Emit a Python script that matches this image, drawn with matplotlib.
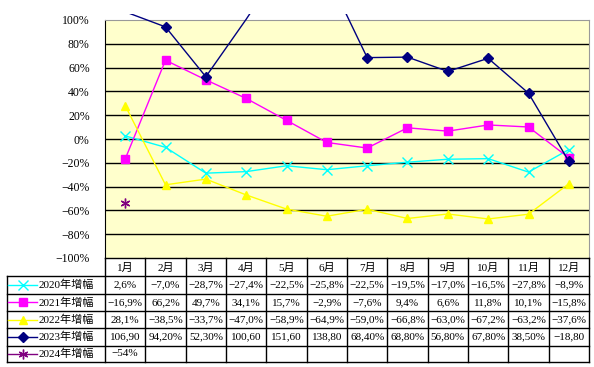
import matplotlib
matplotlib.use("Agg")
from matplotlib import pyplot as plt
from matplotlib.patches import Rectangle
import numpy as np

months = ["1月", "2月", "3月", "4月", "5月", "6月", "7月", "8月", "9月", "10月", "11月", "12月"]
series_names = ["2020年增幅", "2021年增幅", "2022年增幅", "2023年增幅", "2024年增幅"]

g2020 = [2.6, -7.0, -28.7, -27.4, -22.5, -25.8, -22.5, -19.5, -17.0, -16.5, -27.8, -8.9]
g2021 = [-16.9, 66.2, 49.7, 34.1, 15.7, -2.9, -7.6, 9.4, 6.6, 11.8, 10.1, -15.8]
g2022 = [28.1, -38.5, -33.7, -47.0, -58.9, -64.9, -59.0, -66.8, -63.0, -67.2, -63.2, -37.6]
g2023 = [106.9, 94.2, 52.3, 100.6, 151.6, 138.8, 68.4, 68.8, 56.8, 67.8, 38.5, -18.8]
g2024 = [-54.0]

yticks = [-100, -80, -60, -40, -20, 0, 20, 40, 60, 80, 100]

colors = ["#00FFFF", "#FF00FF", "#FFFF00", "#000080", "#800080"]
markers = ["x", "s", "^", "D", (6, 2, 0)]
msizes = [7, 5.5, 6, 5, 7]

num_font = ["Liberation Serif", "Noto Sans CJK SC"]

W, H = 594, 367
fig = plt.figure(figsize=(W / 100, H / 100), dpi=100)

# plot area in pixels
px_l, px_r, px_t, px_b = 105, 589, 20, 258
ax = fig.add_axes([px_l / W, 1 - px_b / H, (px_r - px_l) / W, (px_b - px_t) / H])
ax.set_facecolor("#FFFFCC")
ax.set_xlim(0, 12)
ax.set_ylim(-100, 100)

for y in yticks[1:-1]:
    ax.axhline(y, color="black", lw=1.0, zorder=1)

data = [g2020, g2021, g2022, g2023, g2024]
# lines run slightly past the top of the plot area, markers do not
clip = Rectangle((0, 0), 1, 1.024, transform=ax.transAxes, fill=False, visible=False)
ax.add_patch(clip)
for vals, c, m, ms in zip(data, colors, markers, msizes):
    x = np.arange(len(vals)) + 0.5
    shown = [i for i, v in enumerate(vals) if v <= 100]
    ln, = ax.plot(x, vals, color=c, lw=1.0, marker=m, markersize=ms, markevery=shown,
                  markeredgewidth=1.0, markerfacecolor=c, markeredgecolor=c,
                  zorder=3)
    ln.set_clip_path(clip)

ax.set_yticks(yticks)
ax.set_yticklabels([f"{v}%".replace("-", "−") for v in yticks], fontfamily=num_font, fontsize=8.5)
ax.tick_params(axis="y", length=0, pad=11)
ax.set_xticks([])
ax.spines["left"].set_color("black")
ax.spines["bottom"].set_visible(False)
ax.spines["top"].set_color("#999999")
ax.spines["right"].set_color("#999999")

# data table below the plot
tax = fig.add_axes([0, 0, 1, 1])
tax.set_xlim(0, W)
tax.set_ylim(H, 0)
tax.axis("off")

col_w = (px_r - px_l) / 12
tab_l = 6.5
row_y = [258, 276, 293.5, 311, 328, 345.5, 361.5]
lw = 1.0

# header row
tax.plot([px_l, px_r], [row_y[0], row_y[0]], color="black", lw=lw)
for i in range(13):
    xx = px_l + i * col_w
    tax.plot([xx, xx], [row_y[0], row_y[-1]], color="black", lw=lw)
for i, mth in enumerate(months):
    tax.text(px_l + (i + 0.5) * col_w, (row_y[0] + row_y[1]) / 2 + 0.5, mth,
             ha="center", va="center", fontsize=8, fontfamily=num_font)

for r in range(1, 7):
    tax.plot([tab_l, px_r], [row_y[r], row_y[r]], color="black", lw=lw)
tax.plot([tab_l, tab_l], [row_y[1], row_y[-1]], color="black", lw=lw)


def fmt(v, two=False):
    if two:
        s = f"{v:.2f}%".replace(".", ",")[:6]
    else:
        s = f"{v:.1f}%".replace(".", ",")
    return s.replace("-", "−")


cells = [[fmt(v) for v in g2020], [fmt(v) for v in g2021], [fmt(v) for v in g2022],
         [fmt(v, True) for v in g2023], [f"{v:.0f}%".replace("-", "−") for v in g2024]]

for r in range(5):
    yc = (row_y[r + 1] + row_y[r + 2]) / 2
    # legend sample
    tax.plot([8, 37], [yc, yc], color=colors[r], lw=1.0)
    tax.plot([22.5], [yc], color=colors[r], marker=markers[r], markersize=msizes[r],
             markeredgewidth=1.0, markerfacecolor=colors[r], markeredgecolor=colors[r])
    tax.text(39, yc + 0.5, series_names[r], ha="left", va="center",
             fontsize=8, fontfamily=num_font)
    for i, s in enumerate(cells[r]):
        tax.text(px_l + (i + 0.5) * col_w, yc + 0.5, s, ha="center", va="center",
                 fontsize=8, fontfamily=num_font)

fig.savefig("out.png", dpi=100)
